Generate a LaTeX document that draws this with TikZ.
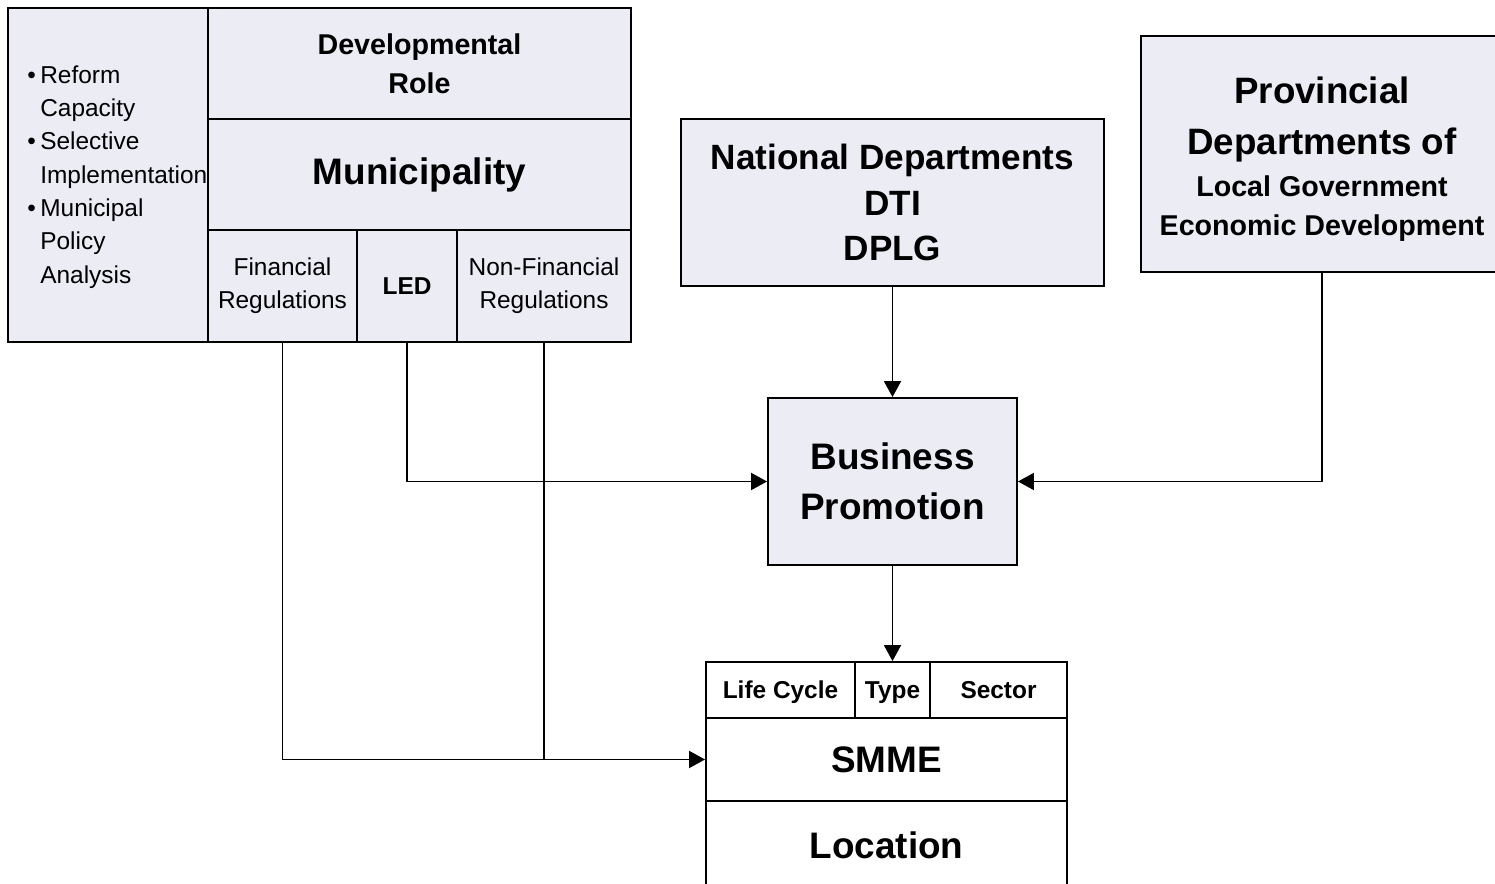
\documentclass[tikz,border=0pt]{standalone}
\usepackage{fontspec}
\setmainfont{Liberation Sans}
\usetikzlibrary{positioning, arrows.meta}
\definecolor{paleblue}{RGB}{236,236,245}

\begin{document}
\begin{tikzpicture}[
                    % GLOBAL CFG
                    x=0.02cm, y=-0.02cm,
                    >={Triangle[length=0.32cm, width=0.34cm]},
                    % Styles
                    cellbox/.style={% framed box of the upper blocks
                            rectangle,
                            draw,
                            line width=1.1pt,
                            fill=paleblue,
                            inner sep=0pt,
                            align=center,
                        },
                    smmebox/.style={% white boxes of the SMME block
                            cellbox,
                            fill=white,
                        },
                    rowtext/.style={% labels of the SMME top row
                            font=\fontsize{13.9}{19}\selectfont\bfseries,
                            text height=2ex,
                            text depth=0.1ex,
                        },
                    bigtext/.style={% large bold titles
                            font=\fontsize{21}{28.4}\selectfont\bfseries
                        },
                    midtext/.style={% medium bold titles
                            font=\fontsize{16.3}{22}\selectfont\bfseries
                        },
                    smalltext/.style={% plain small labels
                            font=\fontsize{13.9}{19}\selectfont
                        },
                    link/.style={% connector lines
                            line width=1.1pt,
                        },
                ]

                \useasboundingbox (0,0) rectangle (1495,884);
                \clip (0,0) rectangle (1495,884);
                \fill [white] (0,0) rectangle (1495,884);

                % Municipality block
                \node [cellbox, minimum width=4cm, minimum height=6.68cm] (side) at (108,175) {};
                \node [smalltext, align=left, anchor=north west, inner sep=0pt] (sidetext) at (27,65)
                    {\makebox[0.26cm][l]{•}Reform\\
                     \hspace*{0.26cm}Capacity\\
                     \makebox[0.26cm][l]{•}Selective\\
                     \hspace*{0.26cm}Implementation\\
                     \makebox[0.26cm][l]{•}Municipal\\
                     \hspace*{0.26cm}Policy\\
                     \hspace*{0.26cm}Analysis};
                \node [cellbox, midtext, minimum width=8.46cm, minimum height=2.22cm] (devrole) at (419.5,63.5) {Developmental\\Role};
                \node [cellbox, bigtext, minimum width=8.46cm, minimum height=2.22cm] (muni) at (419.5,174.5) {Municipality};
                \node [cellbox, smalltext, minimum width=2.98cm, minimum height=2.24cm] (fin) at (282.5,286) {Financial\\Regulations};
                \node [cellbox, smalltext, font=\fontsize{13.9}{19}\selectfont\bfseries, minimum width=2cm, minimum height=2.24cm] (led) at (407,286) {LED};
                \node [cellbox, smalltext, minimum width=3.48cm, minimum height=2.24cm] (nonfin) at (544,286) {Non-Financial\\Regulations};

                % Departments
                \node [cellbox, font=\fontsize{20}{25.8}\selectfont\bfseries, minimum width=8.46cm, minimum height=3.34cm] (natdep) at (892.5,202.5) {National Departments\\DTI\\DPLG};
                \node [cellbox, minimum width=7.24cm, minimum height=4.72cm] (provdep) at (1322,154) {};
                \node [font=\fontsize{20.9}{29}\selectfont\bfseries, align=center, inner sep=0pt] (provtext) at (1322,159)
                    {Provincial\\[0pt]Departments of\\[-5pt]{\fontsize{16.3}{22}\selectfont Local Government}\\[-7pt]{\fontsize{16.3}{22}\selectfont Economic Development}};

                % Business promotion
                \node [cellbox, bigtext, minimum width=4.98cm, minimum height=3.34cm] (busprom) at (892.5,481.5) {Business\\Promotion};

                % SMME block
                \node [smmebox, rowtext, minimum width=2.98cm, minimum height=1.12cm] (life) at (780.5,690) {Life Cycle};
                \node [smmebox, rowtext, minimum width=1.5cm, minimum height=1.12cm] (type) at (892.5,690) {Type};
                \node [smmebox, rowtext, minimum width=2.74cm, minimum height=1.12cm] (sector) at (998.5,690) {Sector};
                \node [smmebox, bigtext, minimum width=7.22cm, minimum height=1.66cm] (smme) at (886.5,759.5) {SMME};
                \node [smmebox, minimum width=7.22cm, minimum height=2.4cm] (location) at (886.5,861) {};
                \node [bigtext] (loctext) at (886.5,845) {Location};

                % Connectors
                \draw [->, link] (natdep) -- (busprom);
                \draw [->, link] (provdep.south) |- (busprom.east);
                \draw [->, link] (led.south) |- (busprom.west);
                \draw [->, link] (fin.south) |- (smme.west);
                \draw [link] (nonfin.south) -- (nonfin.south |- smme.west);
                \draw [->, link] (busprom.south) -- (type.north);

            \end{tikzpicture}
\end{document}
